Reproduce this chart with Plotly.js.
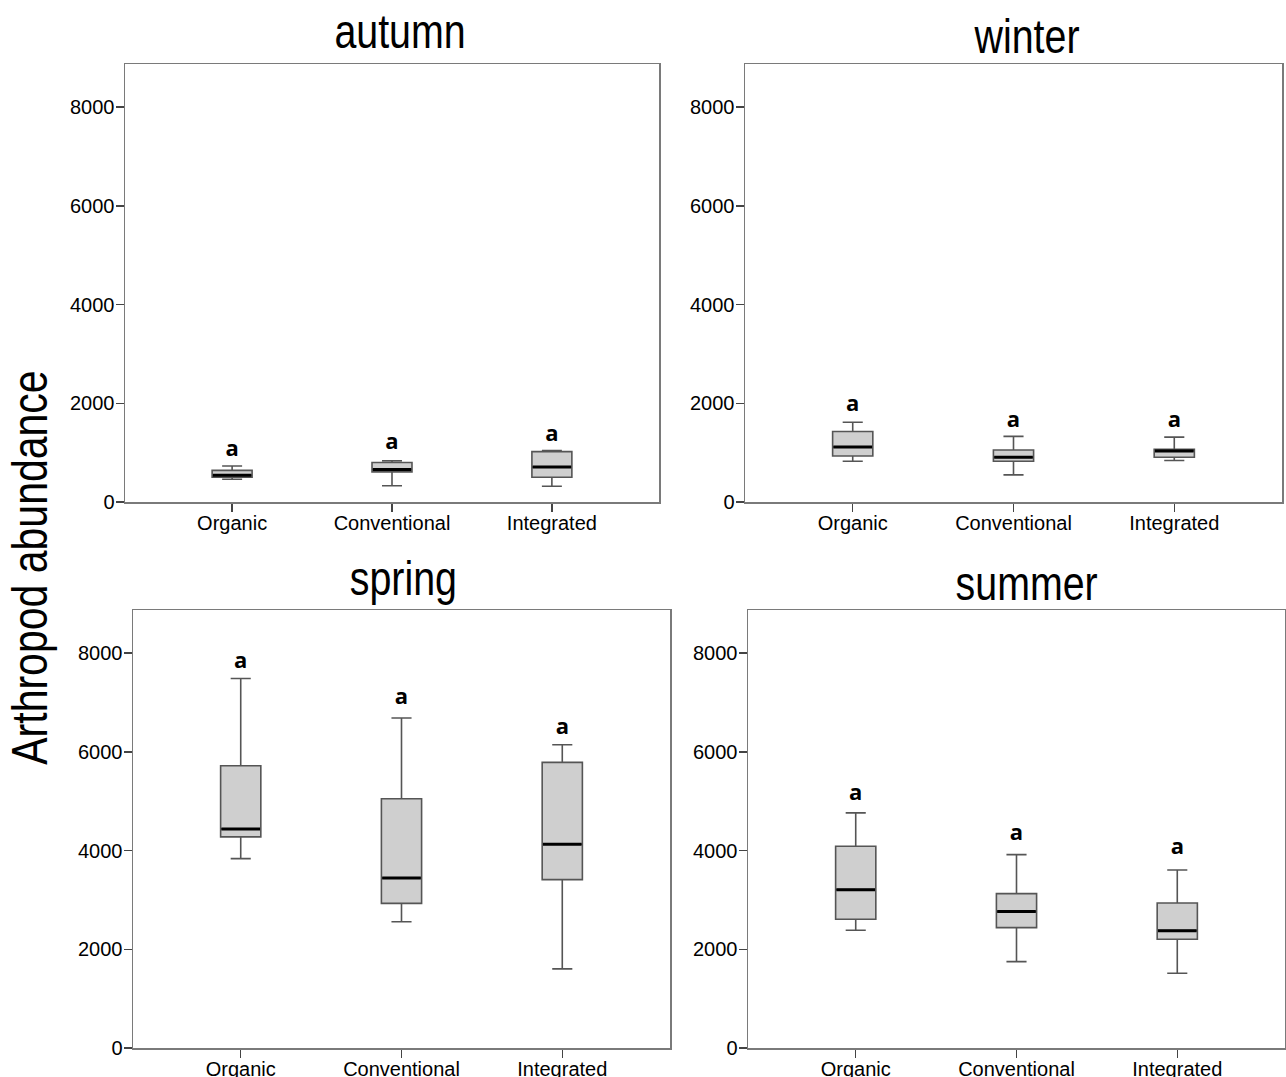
<!DOCTYPE html>
<html>
<head>
<meta charset="utf-8">
<script src="https://cdn.plot.ly/plotly-3.0.1.min.js"></script>
<style>
  html, body { margin: 0; padding: 0; background: #fff; }
  #chart { width: 1286px; height: 1077px; }
</style>
</head>
<body>
<div id="chart"></div>
<script>
// ---- data ----
const categories = ['Organic', 'Conventional', 'Integrated'];
const seasons = ['autumn', 'winter', 'spring', 'summer'];
const yTickVals = [0, 2000, 4000, 6000, 8000];
const yTickText = ['0', '2000', '4000', '6000', '8000'];
const letters = ['a', 'a', 'a'];

const autumnMin    = [460, 330, 320];
const autumnQ1     = [500, 610, 500];
const autumnMedian = [540, 660, 710];
const autumnQ3     = [640, 800, 1020];
const autumnMax    = [730, 835, 1040];
const autumnLetterY = [1050, 1190, 1340];

const winterMin    = [826, 550, 840];
const winterQ1     = [933, 826, 906];
const winterMedian = [1114, 906, 1034];
const winterQ3     = [1430, 1054, 1067];
const winterMax    = [1617, 1329, 1315];
const winterLetterY = [1946, 1631, 1631];

const springMin    = [3838, 2558, 1604];
const springQ1     = [4277, 2931, 3411];
const springMedian = [4440, 3445, 4129];
const springQ3     = [5719, 5049, 5787];
const springMax    = [7486, 6687, 6146];
const springLetterY = [7810, 7073, 6484];

const summerMin    = [2385, 1750, 1514];
const summerQ1     = [2608, 2439, 2203];
const summerMedian = [3209, 2764, 2378];
const summerQ3     = [4088, 3128, 2939];
const summerMax    = [4764, 3919, 3608];
const summerLetterY = [5142, 4331, 4034];

const yAxisTitle = 'Arthropod abundance';

// ---- build ----
const W = 1286, H = 1077;
const panels = [
  {name: seasons[0], min: autumnMin, q1: autumnQ1, med: autumnMedian, q3: autumnQ3, max: autumnMax, ly: autumnLetterY,
   px: [125, 659], py: [64, 502], title: [400, 31]},
  {name: seasons[1], min: winterMin, q1: winterQ1, med: winterMedian, q3: winterQ3, max: winterMax, ly: winterLetterY,
   px: [745, 1282], py: [64, 502], title: [1026, 36]},
  {name: seasons[2], min: springMin, q1: springQ1, med: springMedian, q3: springQ3, max: springMax, ly: springLetterY,
   px: [133, 670], py: [610, 1048], title: [403, 578]},
  {name: seasons[3], min: summerMin, q1: summerQ1, med: summerMedian, q3: summerQ3, max: summerMax, ly: summerLetterY,
   px: [748, 1285], py: [610, 1048], title: [1026, 583]}
];

const traces = [];
const layout = {
  width: W, height: H,
  margin: {l: 0, r: 0, t: 0, b: 0},
  paper_bgcolor: '#ffffff',
  plot_bgcolor: '#ffffff',
  showlegend: false,
  hovermode: false,
  annotations: []
};

const titleFont = {family: '"Liberation Sans", Arial, sans-serif', size: 48, color: '#000'};
const tickFont = {family: '"Liberation Sans", Arial, sans-serif', size: 20, color: '#000'};

panels.forEach((p, i) => {
  const n = i + 1;
  const xa = n === 1 ? 'x' : 'x' + n;
  const ya = n === 1 ? 'y' : 'y' + n;
  const xk = n === 1 ? 'xaxis' : 'xaxis' + n;
  const yk = n === 1 ? 'yaxis' : 'yaxis' + n;

  traces.push({
    type: 'box', xaxis: xa, yaxis: ya,
    x: categories,
    q1: p.q1, median: p.med, q3: p.q3,
    lowerfence: p.min, upperfence: p.max,
    width: 0.25, whiskerwidth: 0.5,
    fillcolor: '#cfcfcf',
    line: {color: '#555555', width: 1.6},
    boxpoints: false, hoverinfo: 'skip'
  });
  // thick black median line drawn as a degenerate box at the median
  traces.push({
    type: 'box', xaxis: xa, yaxis: ya,
    x: categories,
    q1: p.med, median: p.med, q3: p.med,
    lowerfence: p.med, upperfence: p.med,
    width: 0.24, whiskerwidth: 0,
    fillcolor: 'rgba(0,0,0,0)',
    line: {color: '#000000', width: 3},
    boxpoints: false, hoverinfo: 'skip'
  });
  traces.push({
    type: 'scatter', mode: 'text', xaxis: xa, yaxis: ya,
    x: categories, y: p.ly, text: letters,
    textposition: 'middle center',
    textfont: {family: '"Open Sans", "Noto Sans", sans-serif', size: 22, color: '#000', weight: 'bold'},
    hoverinfo: 'skip', cliponaxis: false
  });

  layout[xk] = {
    domain: [p.px[0] / W, p.px[1] / W],
    anchor: ya,
    type: 'category',
    categoryorder: 'array', categoryarray: categories,
    range: [-0.67, 2.67],
    showgrid: false, zeroline: false,
    showline: true, mirror: true, linecolor: '#7a7a7a', linewidth: 1.5,
    ticks: 'outside', ticklen: 8, tickwidth: 1.5, tickcolor: '#444',
    ticklabelstandoff: -6,
    tickfont: tickFont,
    fixedrange: true
  };
  layout[yk] = {
    domain: [1 - p.py[1] / H, 1 - p.py[0] / H],
    anchor: xa,
    range: [0, 8875],
    tickmode: 'array', tickvals: yTickVals, ticktext: yTickText,
    showgrid: false, zeroline: false,
    showline: true, mirror: true, linecolor: '#7a7a7a', linewidth: 1.5,
    ticks: 'outside', ticklen: 8, tickwidth: 1.5, tickcolor: '#444',
    ticklabelstandoff: -3,
    tickfont: tickFont,
    fixedrange: true
  };
  layout.annotations.push({
    text: p.name, xref: 'paper', yref: 'paper',
    x: p.title[0] / W, y: 1 - p.title[1] / H,
    xanchor: 'center', yanchor: 'middle',
    showarrow: false, font: titleFont
  });
});

layout.annotations.push({
  text: yAxisTitle, xref: 'paper', yref: 'paper',
  x: 30 / W, y: 1 - 568 / H, xanchor: 'center', yanchor: 'middle',
  textangle: -90, showarrow: false,
  font: {family: '"Liberation Sans", Arial, sans-serif', size: 50, color: '#000'}
});

Plotly.newPlot('chart', traces, layout, {displayModeBar: false, staticPlot: true}).then(() => {
  // the reference titles use a condensed face: narrow the glyphs along the text direction
  document.querySelectorAll('#chart .annotation-text').forEach(t => {
    const L = t.getComputedTextLength();
    t.setAttribute('textLength', (L * 0.82).toFixed(1));
    t.setAttribute('lengthAdjust', 'spacingAndGlyphs');
  });
});
</script>
</body>
</html>
